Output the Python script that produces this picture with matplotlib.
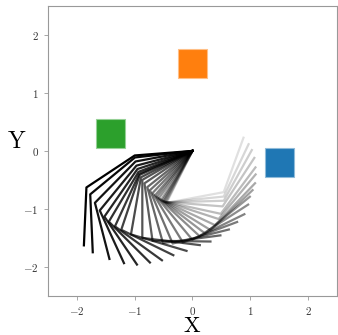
import numpy as np
import matplotlib
matplotlib.use("Agg")
import matplotlib.pyplot as plt
from matplotlib.patches import Rectangle

plt.rcParams['mathtext.fontset'] = 'cm'
plt.rcParams['font.family'] = 'serif'
plt.rcParams['font.serif'] = ['cmr10', 'DejaVu Serif']
plt.rcParams['axes.formatter.use_mathtext'] = True

# joint angles per frame (deg): shoulder absolute, elbow and wrist relative
q1 = [184.5, 186.5, 190.5, 194.7, 198.2, 201.2, 203.2, 204.4, 207.1, 210.0,
      214.0, 218.7, 222.7, 226.5, 229.9, 232.2, 234.6, 237.4, 238.9, 240.0,
      240.7, 241.5, 242.6, 242.9, 243.6]
q2 = [29, 33, 35, 36, 37, 38, 42, 47, 53, 60,
      64, 67, 70.4, 75, 80, 85, 88, 91, 96, 102,
      107, 114, 119, 123, 127]
q3 = [54, 53, 59, 64, 69, 76, 79, 82.6, 83.4, 82.8,
      81.2, 81.8, 80.9, 79.1, 76.2, 75.7, 76.6, 75.2, 71.4, 68.3,
      65.5, 61.3, 59.4, 58.7, 59.4]
link_len = [1.0, 1.0, 1.0]

# target squares
target_x = [1.5, 0.0, -1.42]
target_y = [-0.2, 1.5, 0.3]
target_size = 0.5
target_colors = ['#1f77b4', '#ff7f0e', '#2ca02c']
target_edges = ['#8fbbd9', '#ffbf86', '#95d095']

fig = plt.figure(figsize=(3.38, 3.35), dpi=100)
ax = fig.add_axes([0.141, 0.117, 0.857, 0.865])

for cx, cy, fc, ec in zip(target_x, target_y, target_colors, target_edges):
    ax.add_patch(Rectangle((cx - target_size/2, cy - target_size/2), target_size, target_size,
                           facecolor=fc, edgecolor=ec, lw=0.8, zorder=1))

n = len(q1)
alphas = np.linspace(1.0, 0.12, n)
for k in range(n):
    a = np.cumsum(np.radians([q1[k], q2[k], q3[k]]))
    xs = np.concatenate([[0], np.cumsum(np.array(link_len)*np.cos(a))])
    ys = np.concatenate([[0], np.cumsum(np.array(link_len)*np.sin(a))])
    ax.plot(xs, ys, color='black', lw=1.6, alpha=alphas[k], zorder=2)

ax.set_xlim(-2.5, 2.5)
ax.set_ylim(-2.5, 2.5)
ax.set_xticks([-2, -1, 0, 1, 2])
ax.set_yticks([-2, -1, 0, 1, 2])
for sp in ax.spines.values():
    sp.set_color('#999999')
    sp.set_linewidth(0.8)
ax.tick_params(colors='#999999', labelcolor='#333333', labelsize=8, length=3, width=0.6)
ax.set_xlabel(r'$\mathrm{X}$', fontsize=16, va='top')
ax.set_ylabel(r'$\mathrm{Y}$', fontsize=17, rotation=0, va='center', ha='center')
ax.xaxis.set_label_coords(0.5, -0.07)
ax.yaxis.set_label_coords(-0.108, 0.531)

fig.savefig('out.png', dpi=100)
